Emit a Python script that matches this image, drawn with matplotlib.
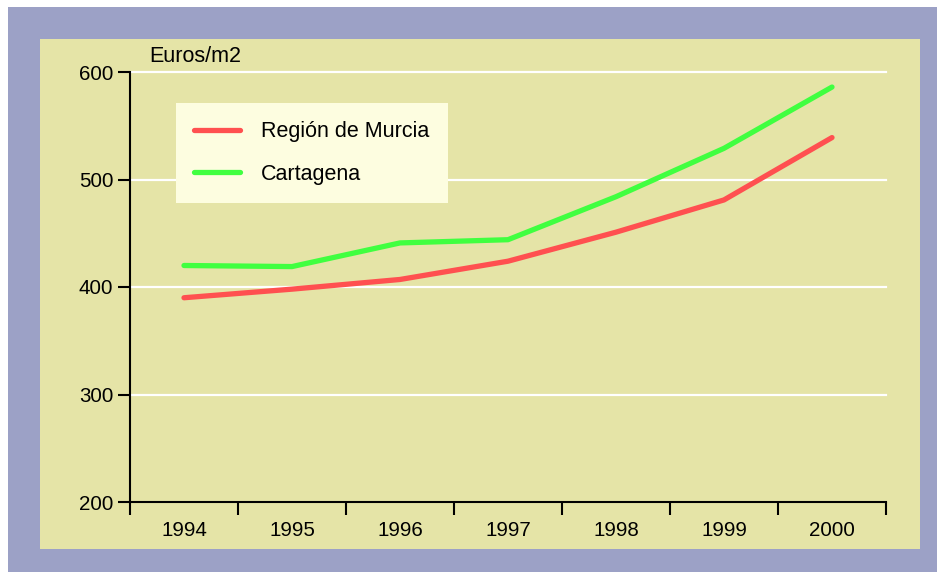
import matplotlib.pyplot as plt
from matplotlib.patches import Rectangle
import numpy as np

years = ['1994', '1995', '1996', '1997', '1998', '1999', '2000']
murcia = [390, 398, 407, 424, 451, 481, 539]
cartagena = [420, 419, 441, 444, 484, 529, 586]
yticks = [200, 300, 400, 500, 600]

W, H = 938, 575
plt.rcParams['font.family'] = ['Liberation Sans', 'DejaVu Sans']

fig = plt.figure(figsize=(W / 100, H / 100), dpi=100)
fig.patch.set_facecolor('white')

def px(x0, y0, x1, y1):
    # pixel box -> figure fraction (left, bottom, width, height)
    return (x0 / W, 1 - y1 / H, (x1 - x0) / W, (y1 - y0) / H)

l, b, w, h = px(8, 7, 937, 572)
fig.patches.append(Rectangle((l, b), w, h, transform=fig.transFigure,
                             facecolor='#9ca1c6', edgecolor='none', zorder=-2))
l, b, w, h = px(40, 39, 920, 549)
fig.patches.append(Rectangle((l, b), w, h, transform=fig.transFigure,
                             facecolor='#e5e4a7', edgecolor='none', zorder=-1))

ax = fig.add_axes(px(130, 72, 886, 502))
ax.set_facecolor('none')
ax.set_zorder(2)

x = np.arange(len(years))
ax.plot(x, murcia, color='#ff5050', lw=3.8, solid_capstyle='round',
        solid_joinstyle='round', label='Región de Murcia', zorder=3)
ax.plot(x, cartagena, color='#40ff40', lw=3.8, solid_capstyle='round',
        solid_joinstyle='round', label='Cartagena', zorder=3)

ax.set_xlim(-0.5, len(years) - 0.5)
ax.set_ylim(200, 600)
ax.set_yticks(yticks)
for v in yticks[1:]:
    ax.axhline(v, color='white', lw=1.6, zorder=1, clip_on=False)

ax.set_xticks(np.arange(-0.5, len(years)), labels=[])
ax.set_xticks(x, labels=years, minor=True)
ax.tick_params(axis='x', which='major', length=9, width=1.5, direction='out')
ax.tick_params(axis='x', which='minor', length=0, pad=14, labelsize=14.8)
ax.tick_params(axis='y', length=9, width=1.5, pad=3, labelsize=14.8)

for s in ['top', 'right']:
    ax.spines[s].set_visible(False)
for s in ['left', 'bottom']:
    ax.spines[s].set_linewidth(1.5)

fig.text(149 / W, 1 - 56 / H, 'Euros/m2', fontsize=15.5, ha='left', va='center')

leg = ax.legend(loc='upper left', bbox_to_anchor=(176 / W, 1 - 103 / H),
                bbox_transform=fig.transFigure, borderaxespad=0, fontsize=15.5,
                handlelength=2.1, handletextpad=1.0, borderpad=0.85,
                labelspacing=1.0, fancybox=False, framealpha=1)
leg.get_frame().set_facecolor('#fdfde0')
leg.get_frame().set_edgecolor('none')

fig.savefig('out.png', dpi=100)
